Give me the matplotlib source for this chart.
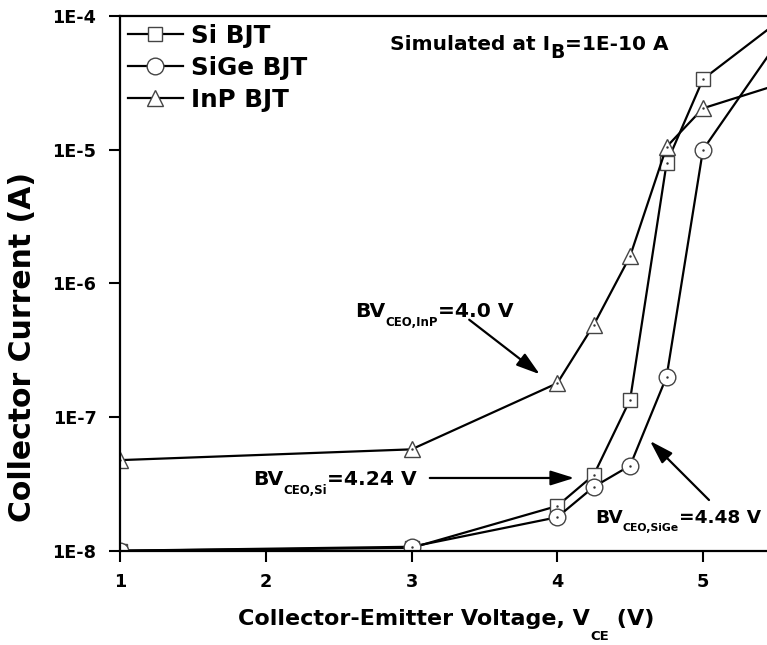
import numpy as np
import matplotlib
matplotlib.use('Agg')
import matplotlib.pyplot as plt
from matplotlib.ticker import FixedLocator, FuncFormatter, NullLocator

plt.rcParams['font.family'] = ['DejaVu Sans']
plt.rcParams['font.weight'] = 'bold'

# V_CE (V)
vce = [1, 3, 4, 4.25, 4.5, 4.75, 5, 5.5]
# collector current (A)
si_bjt = [1.0e-8, 1.05e-8, 2.16e-8, 3.68e-8, 1.35e-7, 7.9e-6, 3.37e-5, 8.8e-5]
sige_bjt = [1.0e-8, 1.07e-8, 1.78e-8, 3.0e-8, 4.33e-8, 2.0e-7, 1.0e-5, 6.1e-5]
inp_bjt = [4.76e-8, 5.73e-8, 1.79e-7, 4.88e-7, 1.6e-6, 1.05e-5, 2.04e-5, 3.03e-5]

y_ticks = [1e-8, 1e-7, 1e-6, 1e-5, 1e-4]
x_ticks = [1, 2, 3, 4, 5]

fig = plt.figure(figsize=(7.67, 6.45), dpi=100)
ax = fig.add_axes([0.1565, 0.1462, 0.8435, 0.829])
renderer = fig.canvas.get_renderer()


def sub_text(x, y, parts):
    """texto com subscritos: parts = [(texto, tamanho, queda_px), ...]"""
    dx = 0
    for s, size, drop in parts:
        t = ax.annotate(s, xy=(x, y), xycoords='axes fraction',
                        xytext=(dx, -drop), textcoords='offset pixels',
                        fontsize=size, fontweight='bold', ha='left', va='baseline')
        dx += t.get_window_extent(renderer).width


series = [
    (si_bjt, 's', 10, 'Si BJT'),
    (sige_bjt, 'o', 12, 'SiGe BJT'),
    (inp_bjt, '^', 12, 'InP BJT'),
]
for vals, mk, ms, lab in series:
    ax.plot(vce, vals, color='black', lw=1.6, marker=mk, ms=ms,
            mfc='white', mec='#444444', mew=1.0, label=lab)
    ax.plot(vce, vals, ls='none', marker='.', ms=1.5, color='#333333')

ax.set_yscale('log')
ax.set_xlim(1, 1 + 647 / 145.75)
ax.set_ylim(1e-8, 1e-4)

ax.yaxis.set_major_locator(FixedLocator(y_ticks))
ax.yaxis.set_minor_locator(NullLocator())
ax.yaxis.set_major_formatter(FuncFormatter(lambda v, p: '1E%d' % round(np.log10(v))))
ax.xaxis.set_major_locator(FixedLocator(x_ticks))
ax.tick_params(direction='out', length=8, width=1.5, labelsize=12.7)
ax.tick_params(axis='y', pad=9)
ax.tick_params(axis='x', pad=8)

for s in ['left', 'bottom', 'top']:
    ax.spines[s].set_linewidth(1.6)
ax.spines['right'].set_visible(False)

fig.text(23 / 767, 1 - 347 / 645, 'Collector Current (A)', rotation=90,
         fontsize=21.5, fontweight='bold', ha='center', va='center')

sub_text(0.1824, -0.139, [('Collector-Emitter Voltage, V', 16, 0),
                          ('CE', 9.5, 15), (' (V)', 16, 0)])

ax.legend(loc='upper left', frameon=False, fontsize=17.7, handlelength=2.24,
          handletextpad=0.33, labelspacing=0.32, borderaxespad=0.0,
          borderpad=0.32, bbox_to_anchor=(0.0, 1.0))

sub_text(0.4173, 0.9364, [('Simulated at I', 14.5, 0), ('B', 13.5, 8),
                          ('=1E-10 A', 14.5, 0)])

arrow = dict(arrowstyle='-|>,head_length=0.8,head_width=0.25', lw=1.6,
             color='black', mutation_scale=18)

sub_text(0.3632, 0.4376, [('BV', 14.6, 0), ('CEO,InP', 8.5, 9), ('=4.0 V', 14.6, 0)])
ax.annotate('', xy=(0.6522, 0.3268), xytext=(0.5363, 0.4352),
            xycoords='axes fraction', textcoords='axes fraction', arrowprops=arrow)

sub_text(0.2056, 0.1229, [('BV', 14.6, 0), ('CEO,Si', 8.5, 9), ('=4.24 V', 14.6, 0)])
ax.annotate('', xy=(0.7063, 0.136), xytext=(0.4745, 0.136),
            xycoords='axes fraction', textcoords='axes fraction', arrowprops=arrow)

sub_text(0.7342, 0.0524, [('BV', 13.3, 0), ('CEO,SiGe', 7.8, 8), ('=4.48 V', 13.3, 0)])
ax.annotate('', xy=(0.8161, 0.2089), xytext=(0.9134, 0.0911),
            xycoords='axes fraction', textcoords='axes fraction', arrowprops=arrow)

fig.savefig('out.png', dpi=100)
